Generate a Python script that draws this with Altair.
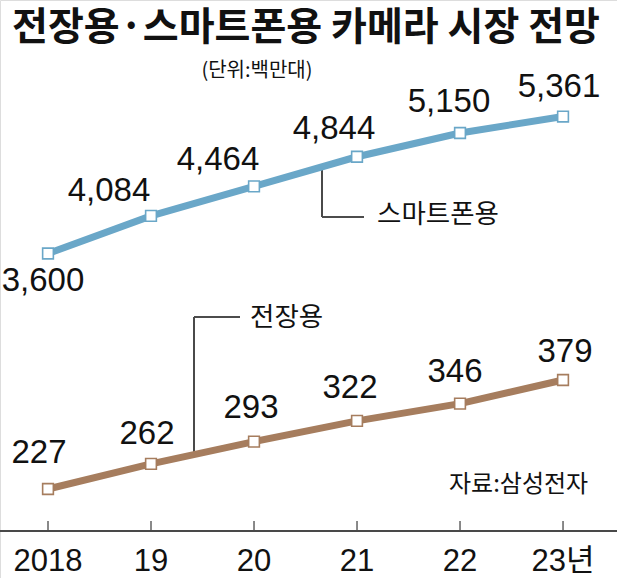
import altair as alt
import pandas as pd

# ---- data ----
years = [2018, 2019, 2020, 2021, 2022, 2023]
year_labels = ["2018", "19", "20", "21", "22", "23년"]
smartphone = [3600, 4084, 4464, 4844, 5150, 5361]
automotive = [227, 262, 293, 322, 346, 379]

df = pd.DataFrame({
    "year": years,
    "label": year_labels,
    "smart": smartphone,
    "auto": automotive,
})

W, H = 617, 578
NUM_FONT = "Liberation Sans, Arial, Noto Sans CJK KR"
KR_FONT = "Noto Sans CJK KR"
BLUE = "#6aa7c8"
BROWN = "#a67d5e"
GRAY = "#4a4a4a"

xs = alt.Scale(domain=[2017.534, 2023.524], nice=False, zero=False)
ys_smart = alt.Scale(domain=[-572.4, 6859.7], nice=False, zero=False)
ys_auto = alt.Scale(domain=[102.9, 908.9], nice=False, zero=False)

base = alt.Chart(df)
X = alt.X("year:Q", scale=xs, axis=None)

# axis
axis_line = base.mark_rule(color=GRAY, strokeWidth=1.3).encode(
    x=alt.value(0), x2=alt.value(W), y=alt.value(531))
ticks = base.mark_rule(color=GRAY, strokeWidth=1.3).encode(
    x=X, y=alt.value(521), y2=alt.value(531))
tick_labels = base.mark_text(font=NUM_FONT, fontSize=31, color="#111", baseline="middle").encode(
    x=X, y=alt.value(562), text="label:N")

# series
smart_line = base.mark_line(color=BLUE, strokeWidth=7).encode(
    x=X, y=alt.Y("smart:Q", scale=ys_smart, axis=None))
smart_pts = base.mark_point(shape="square", filled=True, fill="white", stroke=BLUE,
                            strokeWidth=1.6, size=115, opacity=1).encode(
    x=X, y=alt.Y("smart:Q", scale=ys_smart, axis=None))
auto_line = base.mark_line(color=BROWN, strokeWidth=7).encode(
    x=X, y=alt.Y("auto:Q", scale=ys_auto, axis=None))
auto_pts = base.mark_point(shape="square", filled=True, fill="white", stroke=BROWN,
                           strokeWidth=1.6, size=115, opacity=1).encode(
    x=X, y=alt.Y("auto:Q", scale=ys_auto, axis=None))

# value labels (offsets are layout only)
smart_off = [(-5, 27), (-42, -25), (-36, -26), (-23, -28), (-11, -31), (-4, -30)]
auto_off = [(-9, -36), (-4, -30), (-3, -34), (-7, -33), (-5, -32), (2, -28)]

value_layers = []
for yr, (dx, dy) in zip(years, smart_off):
    value_layers.append(
        base.transform_filter(alt.datum.year == yr).mark_text(
            font=NUM_FONT, fontSize=33, color="#111", dx=dx, dy=dy, baseline="middle"
        ).encode(x=X, y=alt.Y("smart:Q", scale=ys_smart, axis=None),
                 text=alt.Text("smart:Q", format=","))
    )
for yr, (dx, dy) in zip(years, auto_off):
    value_layers.append(
        base.transform_filter(alt.datum.year == yr).mark_text(
            font=NUM_FONT, fontSize=33, color="#111", dx=dx, dy=dy, baseline="middle"
        ).encode(x=X, y=alt.Y("auto:Q", scale=ys_auto, axis=None),
                 text=alt.Text("auto:Q"))
    )

# annotations
lead_s1 = base.mark_rule(color=GRAY, strokeWidth=1.2).encode(
    x=alt.value(322), y=alt.value(166), y2=alt.value(217))
lead_s2 = base.mark_rule(color=GRAY, strokeWidth=1.2).encode(
    x=alt.value(322), x2=alt.value(364), y=alt.value(217))
lead_a1 = base.mark_rule(color=GRAY, strokeWidth=1.2).encode(
    x=alt.value(194), y=alt.value(317), y2=alt.value(454))
lead_a2 = base.mark_rule(color=GRAY, strokeWidth=1.2).encode(
    x=alt.value(194), x2=alt.value(240), y=alt.value(317))

def txt(s, x, y, size, align="left", weight="normal", font=KR_FONT, color="#111"):
    return alt.Chart(pd.DataFrame({"t": [s]})).mark_text(
        font=font, fontSize=size, fontWeight=weight, align=align,
        baseline="middle", color=color
    ).encode(x=alt.value(x), y=alt.value(y), text="t:N")

title = txt("전장용·스마트폰용 카메라 시장 전망", 306, 28, 39, align="center", weight="bold")
subtitle = txt("(단위:백만대)", 257, 71, 20, align="center")
smart_name = txt("스마트폰용", 377, 215, 26.5)
auto_name = txt("전장용", 250, 318, 26.5)
source = txt("자료:삼성전자", 449, 485, 24)

chart = alt.layer(
    axis_line, ticks, tick_labels,
    lead_s1, lead_s2, lead_a1, lead_a2,
    smart_line, auto_line, smart_pts, auto_pts,
    *value_layers,
    title, subtitle, smart_name, auto_name, source,
).resolve_scale(y="independent").properties(
    width=W, height=H,
    autosize=alt.AutoSizeParams(type="none"),
    padding=0,
).configure_view(stroke=None).configure(background="white")

chart.save("out.html", embed_options={"renderer": "svg", "actions": False})
